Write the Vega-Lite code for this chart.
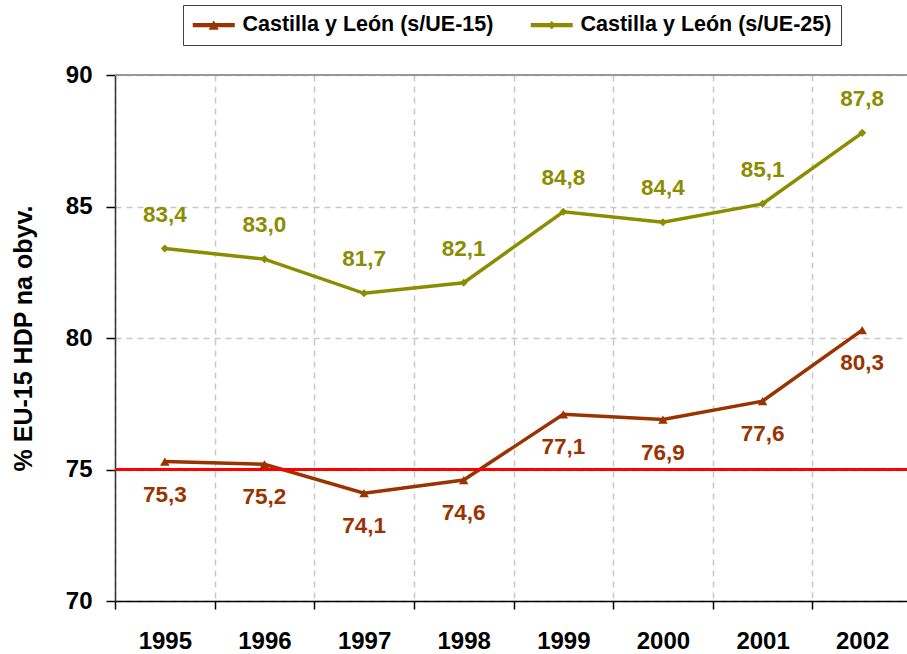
{
  "$schema": "https://vega.github.io/schema/vega-lite/v6.json",
  "width": 792,
  "height": 526,
  "autosize": {"type": "none"},
  "padding": {"left": 115, "top": 75, "right": 0, "bottom": 53},
  "background": "white",
  "config": {
    "font": "Liberation Sans",
    "view": {"stroke": null},
    "locale": {"number": {"decimal": ",", "thousands": ".", "grouping": [3], "currency": ["", ""]}}
  },
  "data": {
    "values": [
      {"year": "1995", "series": "Castilla y León (s/UE-15)", "value": 75.3},
      {"year": "1996", "series": "Castilla y León (s/UE-15)", "value": 75.2},
      {"year": "1997", "series": "Castilla y León (s/UE-15)", "value": 74.1},
      {"year": "1998", "series": "Castilla y León (s/UE-15)", "value": 74.6},
      {"year": "1999", "series": "Castilla y León (s/UE-15)", "value": 77.1},
      {"year": "2000", "series": "Castilla y León (s/UE-15)", "value": 76.9},
      {"year": "2001", "series": "Castilla y León (s/UE-15)", "value": 77.6},
      {"year": "2002", "series": "Castilla y León (s/UE-15)", "value": 80.3},
      {"year": "1995", "series": "Castilla y León (s/UE-25)", "value": 83.4},
      {"year": "1996", "series": "Castilla y León (s/UE-25)", "value": 83.0},
      {"year": "1997", "series": "Castilla y León (s/UE-25)", "value": 81.7},
      {"year": "1998", "series": "Castilla y León (s/UE-25)", "value": 82.1},
      {"year": "1999", "series": "Castilla y León (s/UE-25)", "value": 84.8},
      {"year": "2000", "series": "Castilla y León (s/UE-25)", "value": 84.4},
      {"year": "2001", "series": "Castilla y León (s/UE-25)", "value": 85.1},
      {"year": "2002", "series": "Castilla y León (s/UE-25)", "value": 87.8}
    ]
  },
  "layer": [
    {
      "mark": {"type": "rule", "color": "#999999", "strokeWidth": 1.5},
      "encoding": {"y": {"datum": 90, "type": "quantitative"}}
    },
    {
      "mark": {"type": "line", "strokeWidth": 3.5},
      "encoding": {
        "x": {
          "field": "year", "type": "ordinal",
          "scale": {"range": [0, 797], "paddingInner": 0, "paddingOuter": 0},
          "axis": {
            "title": null, "labelAngle": 0, "tickBand": "extent",
            "labelFontSize": 24, "labelFontWeight": "bold", "labelColor": "black", "labelPadding": 20,
            "tickSize": 8, "tickColor": "black", "tickWidth": 1.5,
            "domainColor": "black", "domainWidth": 1.5,
            "grid": true, "gridDash": [6, 5], "gridColor": "#c8c8c8", "gridWidth": 1.5
          }
        },
        "y": {
          "field": "value", "type": "quantitative",
          "scale": {"domain": [70, 90], "nice": false, "zero": false},
          "axis": {
            "title": "% EU-15 HDP na obyv.", "titleFontSize": 25, "titleFontWeight": "bold", "titleColor": "black", "titlePadding": 29,
            "values": [70, 75, 80, 85, 90],
            "labelFontSize": 24, "labelFontWeight": "bold", "labelColor": "black", "labelPadding": 14,
            "tickSize": 9, "tickColor": "black", "tickWidth": 1.5,
            "domainColor": "#333333", "domainWidth": 1.5,
            "grid": true, "gridDash": [6, 5], "gridColor": "#c8c8c8", "gridWidth": 1.5
          }
        },
        "color": {
          "field": "series", "type": "nominal",
          "scale": {"domain": ["Castilla y León (s/UE-15)", "Castilla y León (s/UE-25)"], "range": ["#993300", "#8C8C00"]},
          "legend": {
            "title": null, "orient": "none", "direction": "horizontal", "legendX": 68, "legendY": -70,
            "symbolType": "M-1,-0.22L3.2,-0.22L3.2,0.22L-1,0.22Z", "symbolSize": 400,
            "labelFontSize": 21.5, "labelFontWeight": "bold", "labelColor": "black", "labelLimit": 500, "labelOffset": 29,
            "labelExpr": "indexof(datum.label, 'UE-25') >= 0 ? datum.label + '\u00a0\u00a0\u00a0\u00a0\u00a0' : datum.label",
            "columnPadding": 36, "padding": 9, "strokeColor": "#404040", "fillColor": "white",
            "encode": {
              "symbols": {
                "update": {
                  "shape": {"signal": "indexof(datum.value, 'UE-15') >= 0 ? 'M-1,-0.22L3.2,-0.22L3.2,0.22L-1,0.22Z M0.6,0.45L1.1,-0.5L1.6,0.45Z' : 'M-1,-0.22L3.2,-0.22L3.2,0.22L-1,0.22Z M1.1,-0.42L1.52,0L1.1,0.42L0.68,0Z'"},
                  "fill": {"signal": "indexof(datum.value, 'UE-15') >= 0 ? '#993300' : '#8C8C00'"},
                  "stroke": {"value": null},
                  "strokeWidth": {"value": 0},
                  "opacity": {"value": 1},
                  "fillOpacity": {"value": 1}
                }
              }
            }
          }
        }
      }
    },
    {
      "mark": {"type": "rule", "color": "#FF0000", "strokeWidth": 1.6},
      "encoding": {"y": {"datum": 75, "type": "quantitative"}}
    },
    {
      "transform": [{"filter": "datum.series === 'Castilla y León (s/UE-15)'"}],
      "mark": {"type": "point", "filled": true, "opacity": 1, "shape": "triangle-up", "size": 90, "color": "#993300"},
      "encoding": {
        "x": {"field": "year", "type": "ordinal"},
        "y": {"field": "value", "type": "quantitative"}
      }
    },
    {
      "transform": [{"filter": "datum.series === 'Castilla y León (s/UE-25)'"}],
      "mark": {"type": "point", "filled": true, "opacity": 1, "shape": "diamond", "size": 65, "color": "#8C8C00"},
      "encoding": {
        "x": {"field": "year", "type": "ordinal"},
        "y": {"field": "value", "type": "quantitative"}
      }
    },
    {
      "transform": [{"filter": "datum.series === 'Castilla y León (s/UE-15)'"}],
      "mark": {"type": "text", "dy": 33, "fontSize": 22.5, "fontWeight": "bold", "baseline": "middle", "color": "#993300"},
      "encoding": {
        "x": {"field": "year", "type": "ordinal"},
        "y": {"field": "value", "type": "quantitative"},
        "text": {"field": "value", "type": "quantitative", "format": ".1f"}
      }
    },
    {
      "transform": [{"filter": "datum.series === 'Castilla y León (s/UE-25)'"}],
      "mark": {"type": "text", "dy": -34, "fontSize": 22.5, "fontWeight": "bold", "baseline": "middle", "color": "#8C8C00"},
      "encoding": {
        "x": {"field": "year", "type": "ordinal"},
        "y": {"field": "value", "type": "quantitative"},
        "text": {"field": "value", "type": "quantitative", "format": ".1f"}
      }
    }
  ]
}
